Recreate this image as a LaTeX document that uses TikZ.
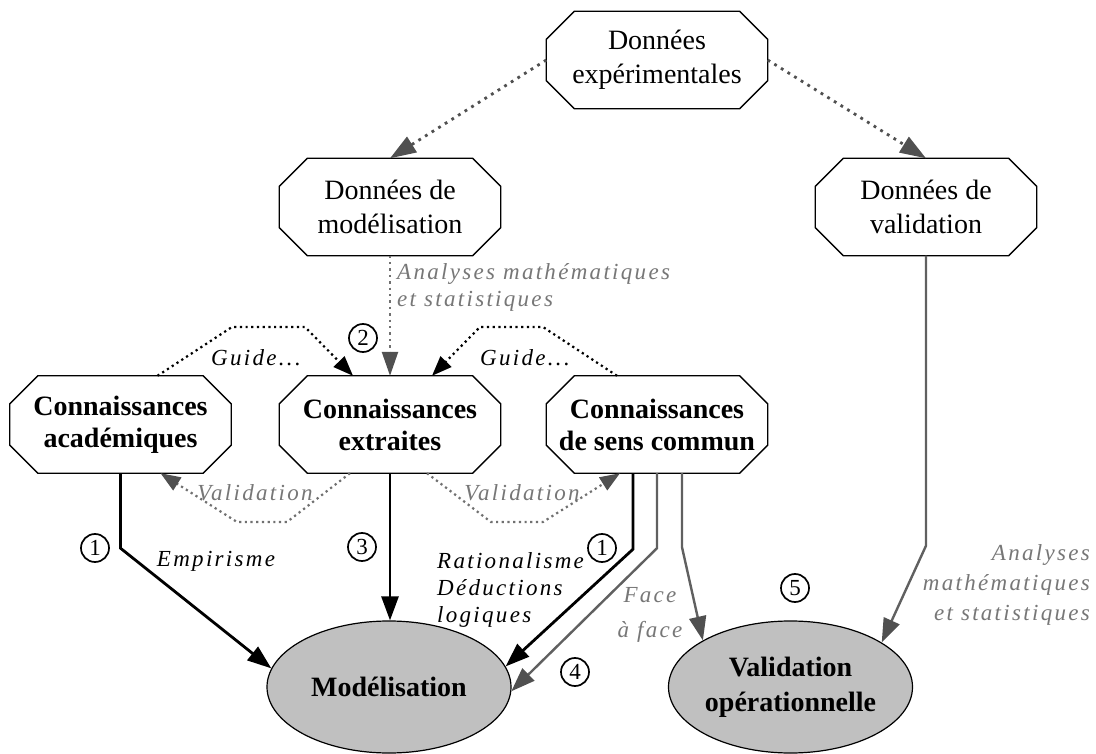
\documentclass[tikz,border=0pt]{standalone}
\usepackage{fontspec}
\setmainfont{Liberation Serif}
\newfontfamily\labfont{Liberation Serif}[LetterSpace=10]
\usetikzlibrary{arrows.meta,shapes.geometric}
\definecolor{ellgray}{HTML}{C0C0C0}
\definecolor{dotgray}{HTML}{505050}
\definecolor{valgray}{HTML}{707070}
\definecolor{linegray}{HTML}{606060}
\definecolor{labgray}{HTML}{777777}
\newcommand\octdraw[1]{\draw[octline] ([xshift=28pt]#1.north west) -- ([xshift=-28pt]#1.north east) -- ([yshift=-28pt]#1.north east) -- ([yshift=28pt]#1.south east) -- ([xshift=-28pt]#1.south east) -- ([xshift=28pt]#1.south west) -- ([yshift=28pt]#1.south west) -- ([yshift=-28pt]#1.north west) -- cycle;}
\tikzset{
  octo/.style={draw=none, minimum width=221pt, minimum height=97pt, align=center, inner sep=0pt, font=\fontsize{28}{34}\selectfont},
  octob/.style={octo, font=\fontsize{28}{32}\selectfont\bfseries},
  octline/.style={draw=black, line width=1.3pt, line join=miter},
  ell/.style={ellipse, draw=black, line width=1.2pt, fill=ellgray, minimum width=244pt, minimum height=132pt, inner sep=0pt, align=center, font=\fontsize{28}{35}\selectfont\bfseries},
  num/.style={circle, draw=black, line width=1.7pt, minimum size=28pt, inner sep=0pt, font=\fontsize{23}{23}\selectfont},
  lab/.style={font=\labfont\itshape\fontsize{23}{27}\selectfont, inner sep=0pt},
  glab/.style={lab, text=labgray},
  blk/.style={draw=black, line width=2.8pt, line join=miter, -{Triangle[length=24pt,width=17pt]}},
  gry/.style={draw=linegray, line width=2.4pt, line join=miter, -{Triangle[length=24pt,width=17pt,color=dotgray]}},
  topdot/.style={draw=dotgray, line width=2.8pt, dash pattern=on 2.8pt off 5pt, -{Triangle[length=26pt,width=18pt]}},
  anadot/.style={draw=valgray, line width=2.4pt, dash pattern=on 2.4pt off 4pt, -{Triangle[length=24pt,width=16pt,color=dotgray]}},
  guidedot/.style={draw=black, line width=2.2pt, dash pattern=on 2.2pt off 3.5pt, -{Triangle[length=20pt,width=15pt]}},
  valdot/.style={draw=valgray, line width=2.2pt, dash pattern=on 2.2pt off 3.5pt, -{Triangle[length=20pt,width=15pt,color=dotgray]}},
}
\begin{document}
\begin{tikzpicture}[x=1pt,y=-1pt]
\useasboundingbox[fill=white] (0,0) rectangle (1096,754);

% octagon nodes
\node[octo]  (dexp)  at (657,60)    {Données\\expérimentales};
\node[octo]  (dmod)  at (390,207)   {Données de\\modélisation};
\node[octo]  (dval)  at (926,207)   {Données de\\validation};
\node[octob] (cacad) at (120.5,424.5) {Connaissances\\académiques};
\node[octob] (cext)  at (390,424.5) {Connaissances\\extraites};
\node[octob] (csens) at (657,424.5) {Connaissances\\de sens commun};
\foreach \n in {dexp,dmod,dval,cacad,cext,csens} {\octdraw{\n}}

% ellipses
\node[ell] (modl) at (389,687) {Modélisation};
\node[ell] (vop)  at (790.5,687) {Validation\\opérationnelle};

% bend coordinates
\coordinate (gl1) at (232,327);
\coordinate (gl2) at (305,327);
\coordinate (gr1) at (543,327);
\coordinate (gr2) at (480,327);
\coordinate (vl1) at (287,522);
\coordinate (vl2) at (237,522);
\coordinate (vr1) at (491,522);
\coordinate (vr2) at (543,522);

% dotted arrows from experimental data
\draw[topdot] (dexp.west) -- (dmod.north);
\draw[topdot] (dexp.east) -- (dval.north);
% analyses
\draw[anadot] (dmod.south) -- (cext.north);
% guides
\draw[guidedot] ([xshift=37pt]cacad.north) -- (gl1) -- (gl2) -- ([xshift=-37pt]cext.north);
\draw[guidedot] ([xshift=-40pt]csens.north) -- (gr1) -- (gr2) -- ([xshift=42pt]cext.north);
% validations
\draw[valdot] ([xshift=-40pt]cext.south) -- (vl1) -- (vl2) -- ([xshift=40pt]cacad.south);
\draw[valdot] ([xshift=37pt]cext.south) -- (vr1) -- (vr2) -- ([xshift=-37pt]csens.south);

% solid connectors
\draw[blk] (cacad.south) -- ++(0,75) -- (modl.171);
\draw[blk] (cext.south) -- (cext.south |- modl.north);
\draw[blk] ([xshift=-24pt]csens.south) -- ++(0,76) -- (modl.10);
\draw[gry] (csens.south) -- ++(0,75) -- (modl.358);
\draw[gry] ([xshift=25pt]csens.south) -- ++(0,74) -- (vop.152);
\draw[gry] (dval.south) -- ++(0,290) -- (vop.26);

% circled numbers
\node[num] (n2)  at (363,338) {2};
\node[num] (n1a) at (95,548)  {1};
\node[num] (n3)  at (362,547) {3};
\node[num] (n1b) at (602,548) {1};
\node[num] (n4)  at (575,672) {4};
\node[num] (n5)  at (795,588) {5};

% labels
\node[glab, anchor=west, align=left] (lana) at (397,287) {Analyses mathématiques\\et statistiques};
\node[lab] (lg1) at (256,358) {Guide...};
\node[lab] (lg2) at (525,358) {Guide...};
\node[glab] (lv1) at (255,493) {Validation};
\node[glab] (lv2) at (522,493) {Validation};
\node[lab] (lemp) at (216,561) {Empirisme};
\node[lab, anchor=west, align=left] (lrat) at (437,590) {Rationalisme\\Déductions\\logiques};
\node[glab, align=center, font=\labfont\itshape\fontsize{23}{35}\selectfont] (lface) at (650,615) {Face\\à face};
\node[glab, anchor=east, align=right, font=\labfont\itshape\fontsize{23}{30}\selectfont] (lana2) at (1090,585) {Analyses\\mathématiques\\et statistiques};
\end{tikzpicture}
\end{document}
